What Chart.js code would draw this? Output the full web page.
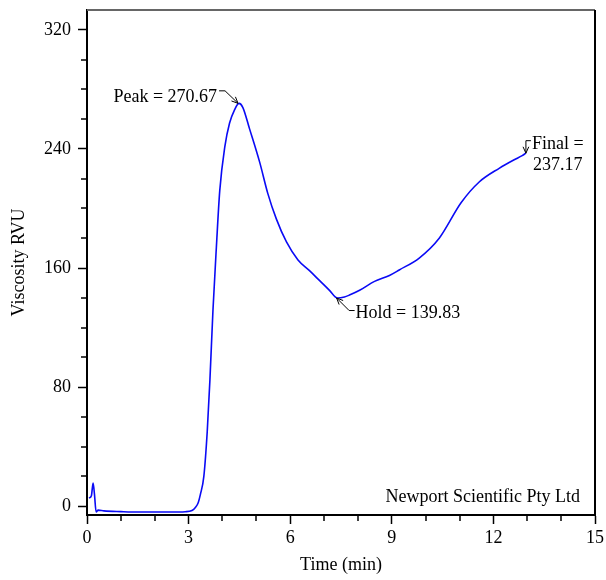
<!DOCTYPE html>
<html>
<head>
<meta charset="utf-8">
<script src="https://cdn.jsdelivr.net/npm/chart.js@4.4.0/dist/chart.umd.min.js"></script>
<style>
  body { margin: 0; background: #fff; }
  canvas { display: block; }
</style>
</head>
<body>
<canvas id="rvaChart" width="606" height="580"></canvas>
<script>
// RVA pasting curve
var timeMin = [0.06, 0.13, 0.18, 0.22, 0.27, 0.33, 0.5, 1.0, 1.5, 2.0, 2.5, 2.9, 3.1, 3.2, 3.28, 3.35, 3.45, 3.55, 3.63, 3.72, 3.82, 3.92, 4.07, 4.21, 4.35, 4.49, 4.6, 4.8, 5.1, 5.34, 5.59, 5.89, 6.23, 6.57, 6.87, 7.16, 7.4, 7.6, 7.75, 8.05, 8.49, 8.93, 9.22, 9.81, 10.4, 11.05, 11.58, 12.17, 12.6, 12.85, 12.96];
var viscosity = [5.4, 7, 15.5, 8, -4, -2.7, -3.2, -3.7, -4, -4, -4, -3.8, -3, -1, 2, 8, 20, 50, 85, 132, 174, 212, 241.6, 257.5, 266, 270.67, 268, 253.5, 231, 210, 193, 177.5, 165.4, 158.2, 151.5, 145, 139.83, 140.5, 141.8, 145, 151, 155, 158.7, 166.7, 180, 204, 217.8, 227, 232.6, 235.5, 237.17];

var xMajor = [0, 3, 6, 9, 12, 15];
var yMajor = [0, 80, 160, 240, 320];

var peakPt = { x: 4.49, y: 270.67, label: 'Peak = 270.67' };
var holdPt = { x: 7.4, y: 139.83, label: 'Hold = 139.83' };
var finalPt = { x: 12.96, y: 237.17, label: ['Final =', '237.17'] };
var maker = 'Newport Scientific Pty Ltd';

var FONT = 'Liberation Serif, Times New Roman, serif';
Chart.defaults.font.family = FONT;
Chart.defaults.font.size = 18;
Chart.defaults.color = '#000';

function arrowHead(c, tx, ty, fx, fy) {
  var a = Math.atan2(ty - fy, tx - fx), L = 7, s = 0.42;
  c.beginPath();
  c.moveTo(tx - L * Math.cos(a - s), ty - L * Math.sin(a - s));
  c.lineTo(tx, ty);
  c.lineTo(tx - L * Math.cos(a + s), ty - L * Math.sin(a + s));
  c.stroke();
}

/* frame, minor ticks, labels */
var extras = {
  id: 'extras',
  afterDraw: function (chart) {
    var c = chart.ctx, a = chart.chartArea;
    var xs = chart.scales.x, ys = chart.scales.y;
    c.save();
    // top + right frame
    c.lineWidth = 2;
    c.strokeStyle = '#666';
    c.beginPath(); c.moveTo(a.left, a.top); c.lineTo(a.right, a.top); c.stroke();
    c.strokeStyle = '#000';
    c.beginPath(); c.moveTo(a.right, a.top); c.lineTo(a.right, a.bottom + 1); c.stroke();

    // minor ticks
    c.lineWidth = 1.5;
    xs.ticks.forEach(function (t) {
      if (xMajor.indexOf(t.value) < 0) {
        var px = Math.round(xs.getPixelForValue(t.value));
        c.beginPath(); c.moveTo(px, a.bottom); c.lineTo(px, a.bottom + 6); c.stroke();
      }
    });
    ys.ticks.forEach(function (t) {
      if (yMajor.indexOf(t.value) < 0) {
        var py = Math.round(ys.getPixelForValue(t.value));
        c.beginPath(); c.moveTo(a.left, py); c.lineTo(a.left - 6, py); c.stroke();
      }
    });

    // annotations
    c.font = '18px ' + FONT;
    c.fillStyle = '#000';
    c.strokeStyle = '#000';
    c.lineWidth = 1;
    c.textBaseline = 'middle';

    var px = xs.getPixelForValue(peakPt.x) - 1, py = ys.getPixelForValue(peakPt.y);
    c.beginPath(); c.moveTo(px - 19, py - 12.5); c.lineTo(px - 13, py - 12.5); c.lineTo(px, py); c.stroke();
    arrowHead(c, px, py, px - 13, py - 12.5);
    c.textAlign = 'right';
    c.fillText(peakPt.label, px - 21, py - 6);

    var hx = xs.getPixelForValue(holdPt.x) - 1, hy = ys.getPixelForValue(holdPt.y);
    c.beginPath(); c.moveTo(hx, hy); c.lineTo(hx + 12.5, hy + 12.5); c.lineTo(hx + 18, hy + 12.5); c.stroke();
    arrowHead(c, hx, hy, hx + 12.5, hy + 12.5);
    c.textAlign = 'left';
    c.fillText(holdPt.label, hx + 19, hy + 15);

    var fx = xs.getPixelForValue(finalPt.x), fy = ys.getPixelForValue(finalPt.y);
    c.beginPath(); c.moveTo(fx + 5, fy - 12.5); c.lineTo(fx, fy - 12.5); c.lineTo(fx, fy); c.stroke();
    arrowHead(c, fx, fy, fx, fy - 12.5);
    c.fillText(finalPt.label[0], fx + 6, fy - 9);
    c.fillText(finalPt.label[1], fx + 7, fy + 12);

    c.textAlign = 'right';
    c.fillText(maker, a.right - 15, a.bottom - 18);
    c.restore();
  }
};

var points = timeMin.map(function (t, i) { return { x: t, y: viscosity[i] }; });

new Chart(document.getElementById('rvaChart'), {
  type: 'line',
  data: {
    datasets: [{
      data: points,
      borderColor: '#0a0af5',
      borderWidth: 1.6,
      pointRadius: 0,
      fill: false,
      cubicInterpolationMode: 'monotone'
    }]
  },
  options: {
    responsive: false,
    animation: false,
    layout: { padding: { top: 10, right: 11, left: 0, bottom: 0 } },
    plugins: { legend: { display: false }, tooltip: { enabled: false } },
    scales: {
      x: {
        type: 'linear', min: 0, max: 15,
        afterBuildTicks: function (s) {
          s.ticks = [];
          for (var v = 0; v <= 15; v++) s.ticks.push({ value: v });
        },
        afterFit: function (s) { s.height = 65; s.paddingLeft = 0; s.paddingRight = 0; },
        ticks: {
          autoSkip: false, maxRotation: 0, padding: 3,
          callback: function (v) { return xMajor.indexOf(v) >= 0 ? v : ''; }
        },
        grid: {
          drawOnChartArea: false, tickLength: 9, tickWidth: 1.5,
          tickColor: function (ctx) { return ctx.tick && xMajor.indexOf(ctx.tick.value) >= 0 ? '#000' : 'rgba(0,0,0,0)'; }
        },
        border: { color: '#000', width: 2 },
        title: { display: true, text: 'Time (min)', padding: { top: 0, bottom: 4 } }
      },
      y: {
        min: -6, max: 333.4,
        afterBuildTicks: function (s) {
          s.ticks = [];
          for (var v = 0; v <= 320; v += 20) s.ticks.push({ value: v });
        },
        afterFit: function (s) { s.width = 87; s.paddingTop = 0; s.paddingBottom = 0; },
        ticks: {
          autoSkip: false, padding: 7,
          callback: function (v) { return yMajor.indexOf(v) >= 0 ? v : ''; }
        },
        grid: {
          drawOnChartArea: false, tickLength: 9, tickWidth: 1.5,
          tickColor: function (ctx) { return ctx.tick && yMajor.indexOf(ctx.tick.value) >= 0 ? '#000' : 'rgba(0,0,0,0)'; }
        },
        border: { color: '#000', width: 2 },
        title: { display: true, text: 'Viscosity RVU', padding: { top: 8, bottom: 0 } }
      }
    }
  },
  plugins: [extras]
});
</script>
</body>
</html>
